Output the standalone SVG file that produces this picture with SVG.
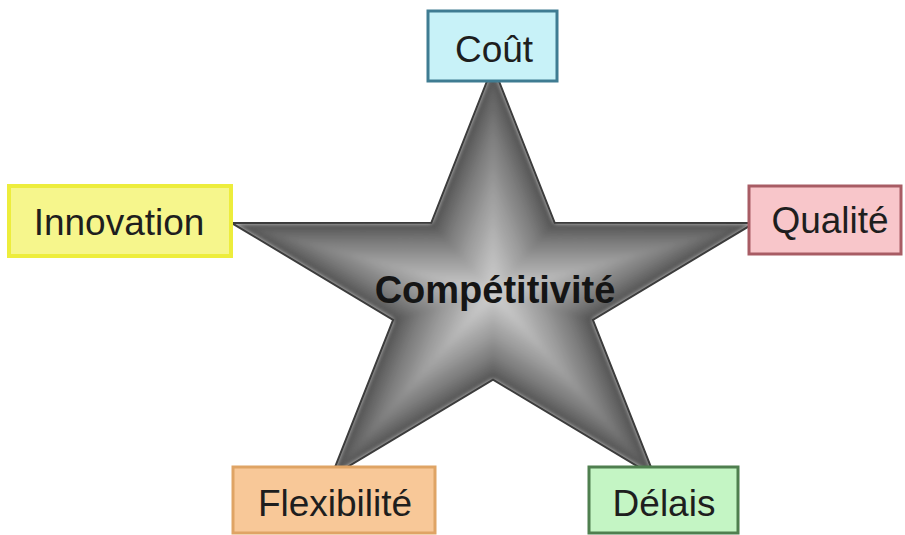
<svg xmlns="http://www.w3.org/2000/svg" xmlns:xlink="http://www.w3.org/1999/xlink" width="905" height="535" viewBox="0 0 905 535">
  <style>
    .lbl { font-family: "Liberation Sans", Arial, sans-serif; font-size: 37px; text-anchor: middle; fill: #1e1e1e; }
    .center { font-family: "Liberation Sans", Arial, sans-serif; font-size: 38px; font-weight: bold; text-anchor: middle; fill: #151515; }
    .box { stroke-width: 3; }
  </style>
  <defs>
    <polygon id="star" points="0,-227 61.7,-70.2 261.5,-70.1 99.9,26.8 161.7,183.6 0,86.7 -161.7,183.6 -99.9,26.8 -261.5,-70.1 -61.7,-70.2"/>
    <clipPath id="starClip">
      <use xlink:href="#star" href="#star"/>
    </clipPath>
    <filter id="soft" x="-10%" y="-10%" width="120%" height="120%">
      <feGaussianBlur stdDeviation="2.5"/>
    </filter>
  </defs>
  <rect width="905" height="535" fill="#ffffff"/>

  <g id="star-node" transform="translate(493,293)">
    <g clip-path="url(#starClip)">
      <g filter="url(#soft)">
        <use href="#star" fill="#505050"/>
        <use href="#star" fill="#5c5c5c" transform="scale(0.95)"/>
        <use href="#star" fill="#656565" transform="scale(0.90)"/>
        <use href="#star" fill="#6c6c6c" transform="scale(0.85)"/>
        <use href="#star" fill="#747474" transform="scale(0.80)"/>
        <use href="#star" fill="#7b7b7b" transform="scale(0.75)"/>
        <use href="#star" fill="#828282" transform="scale(0.70)"/>
        <use href="#star" fill="#888888" transform="scale(0.65)"/>
        <use href="#star" fill="#8e8e8e" transform="scale(0.60)"/>
        <use href="#star" fill="#959595" transform="scale(0.55)"/>
        <use href="#star" fill="#9b9b9b" transform="scale(0.50)"/>
        <use href="#star" fill="#a1a1a1" transform="scale(0.45)"/>
        <use href="#star" fill="#a6a6a6" transform="scale(0.40)"/>
        <use href="#star" fill="#acacac" transform="scale(0.35)"/>
        <use href="#star" fill="#b2b2b2" transform="scale(0.30)"/>
        <use href="#star" fill="#b7b7b7" transform="scale(0.25)"/>
        <use href="#star" fill="#bdbdbd" transform="scale(0.20)"/>
        <use href="#star" fill="#c2c2c2" transform="scale(0.15)"/>
        <use href="#star" fill="#c7c7c7" transform="scale(0.10)"/>
        <use href="#star" fill="#cdcdcd" transform="scale(0.05)"/>
      </g>
    </g>
    <use href="#star" fill="none" stroke="#3c3c3c" stroke-width="2"/>
    <text class="center" x="2" y="10">Compétitivité</text>
  </g>

  <g id="connectors"></g>

  <g id="node-cout">
    <rect class="box" x="428" y="11" width="129" height="70" fill="#c8f2f8" stroke="#3f7c92"/>
    <text class="lbl" x="494" y="62">Coût</text>
  </g>

  <g id="node-innovation">
    <rect x="9" y="186" width="222" height="70" fill="#f6f68c" stroke="#eded3c" stroke-width="4"/>
    <text class="lbl" x="119" y="235">Innovation</text>
  </g>

  <g id="node-qualite">
    <rect class="box" x="749" y="186" width="152" height="68" fill="#f8c6ca" stroke="#a85c64"/>
    <text class="lbl" x="830" y="233">Qualité</text>
  </g>

  <g id="node-flexibilite">
    <rect class="box" x="233" y="467" width="202" height="66" fill="#f8c898" stroke="#dfa465"/>
    <text class="lbl" x="335" y="516">Flexibilité</text>
  </g>

  <g id="node-delais">
    <rect class="box" x="589" y="467" width="149" height="66" fill="#c4f5c4" stroke="#4f7f4f"/>
    <text class="lbl" x="664" y="516">Délais</text>
  </g>
</svg>
